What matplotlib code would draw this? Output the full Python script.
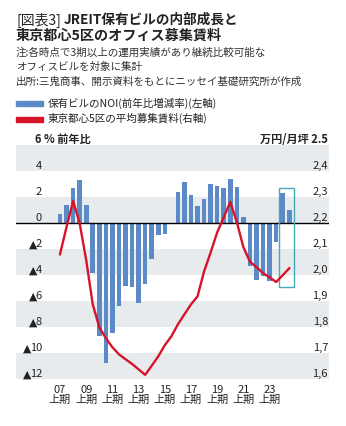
import numpy as np
import matplotlib.pyplot as plt
from matplotlib.patches import Rectangle

plt.rcParams['font.family'] = ['Noto Sans CJK JP', 'DejaVu Sans']

# half-year periods 2007H1 .. 2024H2
noi = [0.7, 1.4, 2.67, 3.28, 1.36, -3.82, -8.7, -10.74, -8.46, -6.4,
       -4.86, -4.95, -6.12, -4.72, -2.74, -0.9, -0.85, -0.1, 2.4, 3.18,
       2.18, 1.28, 1.85, 3.03, 2.87, 2.67, 3.38, 2.74, 0.44, -3.3,
       -4.36, -4.1, -4.5, -1.5, 2.33, 1.0]
rent = [2.08, 2.185, 2.285, 2.199, 2.057, 1.887, 1.799, 1.757, 1.722, 1.695,
        1.676, 1.658, 1.637, 1.616, 1.651, 1.687, 1.730, 1.764, 1.810, 1.849,
        1.887, 1.918, 2.014, 2.087, 2.164, 2.222, 2.281, 2.203, 2.107, 2.051,
        2.030, 2.007, 1.991, 1.973, 1.999, 2.026]
xlabels = ["07", "09", "11", "13", "15", "17", "19", "21", "23"]
left_ticks = [4, 2, 0, -2, -4, -6, -8, -10, -12]
right_ticks = ["2,4", "2,3", "2,2", "2,1", "2,0", "1,9", "1,8", "1,7", "1,6"]

W, H = 346, 426
fig = plt.figure(figsize=(W / 100, H / 100), dpi=100)
fig.patch.set_facecolor('white')

def fx(px):
    return px / W

def fy(py):
    return 1 - py / H

# title / notes
fig.text(fx(16), fy(20), "[図表3]", fontsize=10, color='#222222', va='center')
fig.text(fx(64), fy(20), "JREIT保有ビルの内部成長と", fontsize=9.8,
         fontweight='bold', color='#222222', va='center')
fig.text(fx(16), fy(36), "東京都心5区のオフィス募集賃料", fontsize=10.2,
         fontweight='bold', color='#222222', va='center')
notes = ["注:各時点で3期以上の運用実績があり継続比較可能な",
         "オフィスビルを対象に集計",
         "出所:三鬼商事、開示資料をもとにニッセイ基礎研究所が作成"]
for i, t in enumerate(notes):
    fig.text(fx(16), fy(52.5 + 14.7 * i), t, fontsize=7.6, color='#333333', va='center')

# legend
fig.patches.append(Rectangle((fx(16), fy(106)), fx(27), 5 / H, color='#5b8ac6',
                             transform=fig.transFigure, figure=fig))
fig.text(fx(48), fy(103), "保有ビルのNOI(前年比増減率)(左軸)", fontsize=7.6,
         color='#222222', va='center')
fig.patches.append(Rectangle((fx(16), fy(121.5)), fx(27), 5 / H, color='#d7132a',
                             transform=fig.transFigure, figure=fig))
fig.text(fx(48), fy(118.5), "東京都心5区の平均募集賃料(右軸)", fontsize=7.6,
         color='#222222', va='center')

# axes
ax = fig.add_axes([fx(16), fy(379), fx(313), 234 / H])
x = np.arange(len(noi))
ax.set_xlim(-6.72, 41.07)
ax.set_ylim(-12, 6)
for lo in [4, 0, -4, -8, -12]:
    ax.axhspan(lo, lo + 2, color='#e8ebee', lw=0, zorder=0)
ax.bar(x, noi, width=0.7, color='#5b8ac6', zorder=2)
ax.axhline(0, color='black', lw=1, zorder=3)
ax.add_patch(Rectangle((33.48, -4.95), 2.29, 7.67, fill=False,
                       edgecolor='#45a9bb', lw=1, zorder=4))

for sp in ax.spines.values():
    sp.set_visible(False)
ax.set_yticks([])
ax.set_xticks(np.arange(0, 36, 4))
ax.set_xticklabels([f"{l}\n上期" for l in xlabels], fontsize=8, color='#222222',
                   linespacing=1.05)
ax.tick_params(axis='x', length=0, pad=4)

renderer = fig.canvas.get_renderer()
ytr = ax.get_yaxis_transform()
for v in left_ticks:
    t = ax.text(0.083, v + 0.12, str(abs(v)), transform=ytr,
                ha='right', va='baseline', fontsize=8, color='#222222')
    if v < 0:
        bb = t.get_window_extent(renderer)
        xa = ax.transAxes.inverted().transform((bb.x0 + 1.5, 0))[0]
        ax.text(xa, v + 0.12, "▲", transform=ytr, ha='right', va='baseline',
                fontsize=7.8, color='#222222', family=['DejaVu Sans'])
for v, lab in zip(left_ticks, right_ticks):
    ax.text(0.997, v + 0.12, lab, transform=ytr,
            ha='right', va='baseline', fontsize=8, color='#222222')
ax.text(0.061, 6.12, "6 % 前年比", transform=ytr, fontweight='bold',
        ha='left', va='baseline', fontsize=8, color='#222222')
ax.text(0.997, 6.12, "万円/月坪 2.5", transform=ytr, fontweight='bold',
        ha='right', va='baseline', fontsize=8, color='#222222')

ax2 = ax.twinx()
ax2.set_ylim(1.6, 2.5)
ax2.plot(x, rent, color='#d7132a', lw=1.7, zorder=5)
ax2.set_yticks([])
for sp in ax2.spines.values():
    sp.set_visible(False)
ax2.patch.set_visible(False)

fig.savefig('out.png', dpi=100)
